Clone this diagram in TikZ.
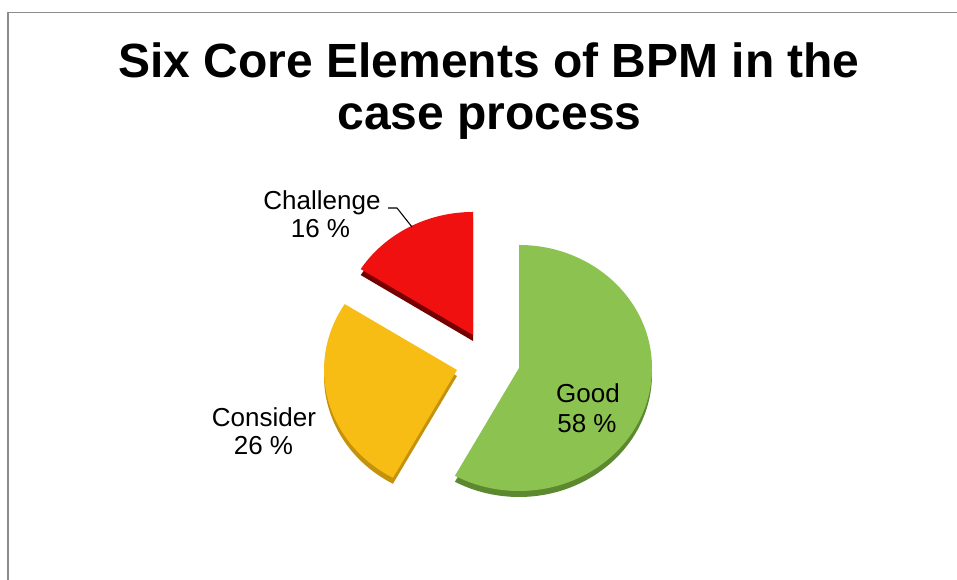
\documentclass[tikz,border=0pt]{standalone}
\usepackage{fontspec}
\setmainfont{Liberation Sans}
\usetikzlibrary{calc}
\definecolor{framegray}{RGB}{140,140,140}
\definecolor{goodface}{RGB}{140,195,80}
\definecolor{goodside}{RGB}{92,136,48}
\definecolor{challface}{RGB}{240,16,16}
\definecolor{challside}{RGB}{118,0,0}
\definecolor{consface}{RGB}{247,189,20}
\definecolor{consside}{RGB}{196,146,12}
\begin{document}
\begin{tikzpicture}[x=0.75pt,y=0.75pt,
  titletext/.style={anchor=base, inner sep=0pt, font=\fontsize{36}{40}\selectfont\bfseries},
  labeltext/.style={anchor=base, inner sep=0pt, font=\fontsize{19.5}{22}\selectfont},
  frameline/.style={draw=framegray, line width=1.1pt},
  leader/.style={draw=black, line width=0.8pt},
  rim/.style={x radius=133, y radius=123}]
\useasboundingbox (0,0) rectangle (957,580);

% chart frame (top and left edges)
\coordinate (fbl) at (8,0);
\coordinate (ftl) at (8,567.5);
\coordinate (ftr) at (957,567.5);
\draw[frameline] (fbl) -- (ftl) -- (ftr);

% title
\node[titletext] (title1) at (489,502) {Six Core Elements of BPM in the};
\node[titletext] (title2) at (489.5,450) {case process};

% slice centres
\coordinate (cgood) at (519,212);
\coordinate (cchall) at (473,245);
\coordinate (ccons) at (457,210);

% side walls: the same slices, dropped a few units and darker
\fill[goodside] ($(cgood)+(0,-6)$) -- ++(90:133 and 123) arc[start angle=90, end angle=-118.8, rim] -- cycle;
\fill[challside] ($(cchall)+(0,-6)$) -- ++(90:133 and 123) arc[start angle=90, end angle=147.6, rim] -- cycle;
\fill[consside] ($(ccons)+(0,-6)$) -- ++(147.6:133 and 123) arc[start angle=147.6, end angle=241.2, rim] -- cycle;

% top faces
\fill[goodface] (cgood) -- ++(90:133 and 123) arc[start angle=90, end angle=-118.8, rim] -- cycle;
\fill[challface] (cchall) -- ++(90:133 and 123) arc[start angle=90, end angle=147.6, rim] -- cycle;
\fill[consface] (ccons) -- ++(147.6:133 and 123) arc[start angle=147.6, end angle=241.2, rim] -- cycle;

% data labels
\node[labeltext] (chal1) at (322,370) {Challenge};
\node[labeltext] (chal2) at (320.5,342) {16 \%};
\node[labeltext] (cons1) at (264,153) {Consider};
\node[labeltext] (cons2) at (263.5,125) {26 \%};
\node[labeltext] (good1) at (588,177) {Good};
\node[labeltext] (good2) at (587,147) {58 \%};

% leader line from the Challenge label to its slice
\coordinate (lead1) at (388,372);
\coordinate (lead2) at (397,372);
\coordinate (lead3) at (412,353);
\draw[leader] (lead1) -- (lead2) -- (lead3);
\end{tikzpicture}
\end{document}
